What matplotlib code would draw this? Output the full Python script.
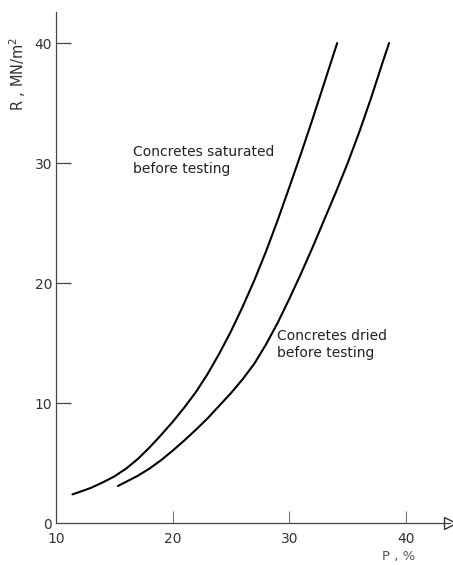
import numpy as np
import matplotlib.pyplot as plt

# porosity (%) vs strength (MN/m2) for the two curing conditions
sat_p = [11.4, 12, 13, 14, 15, 16, 17, 18, 19, 20, 21, 22, 23, 24, 25, 26,
         27, 28, 29, 30, 31, 32, 33, 34.1]
sat_r = [2.4, 2.6, 2.95, 3.4, 3.9, 4.55, 5.35, 6.3, 7.35, 8.45, 9.65, 10.95,
         12.45, 14.15, 16.0, 18.05, 20.25, 22.65, 25.25, 28.0, 30.8, 33.7,
         36.7, 40.0]

dry_p = [15.3, 16, 17, 18, 19, 20, 21, 22, 23, 24, 25, 26, 27, 28, 29, 30,
         31, 32, 33, 34, 35, 36, 37, 38, 38.55]
dry_r = [3.1, 3.45, 3.95, 4.55, 5.25, 6.05, 6.9, 7.8, 8.75, 9.8, 10.85,
         12.0, 13.3, 14.9, 16.7, 18.7, 20.8, 23.0, 25.3, 27.6, 30.0, 32.6,
         35.4, 38.4, 40.0]

xticks = [10, 20, 30, 40]
yticks = [0, 10, 20, 30, 40]

fig = plt.figure(figsize=(4.53, 5.65), dpi=100)
ax = fig.add_axes([0.124, 0.074, 0.87, 0.905])

ax.plot(sat_p, sat_r, color='black', lw=1.5, solid_capstyle='round',
        solid_joinstyle='round')
ax.plot(dry_p, dry_r, color='black', lw=1.5, solid_capstyle='round',
        solid_joinstyle='round')

ax.set_xlim(10, 43.8)
ax.set_ylim(0, 42.6)

for s in ['top', 'right']:
    ax.spines[s].set_visible(False)
for s in ['left', 'bottom']:
    ax.spines[s].set_color('#444444')
    ax.spines[s].set_linewidth(0.9)

# arrow heads on the axes
ax.plot(1, 0, '>', ms=8, mfc='white', mec='#333333', mew=1.0,
        transform=ax.get_yaxis_transform(), clip_on=False)
ax.plot(0, 1, '^', ms=7, mfc='#555555', mec='#222222', mew=1.0,
        transform=ax.get_xaxis_transform(), clip_on=False)

ax.set_xticks(xticks)
ax.set_yticks(yticks)
ax.tick_params(axis='y', direction='in', length=11, width=0.9, color='#444444',
               labelsize=10, labelcolor='#333333', pad=3)
ax.tick_params(axis='x', direction='in', length=9, width=0.8, color='#777777',
               labelsize=10, labelcolor='#333333', pad=6)
ax.xaxis.get_major_ticks()[0].tick1line.set_visible(False)
ax.yaxis.get_major_ticks()[0].tick1line.set_visible(False)

ax.text(16.6, 30.2, 'Concretes saturated\nbefore testing', fontsize=10,
        color='#222222', va='center', ha='left', linespacing=1.25)
ax.text(28.9, 14.9, 'Concretes dried\nbefore testing', fontsize=10,
        color='#222222', va='center', ha='left', linespacing=1.25)

fig.text(0.04, 0.87, 'R , MN/m$^2$', rotation=90, fontsize=10.5,
         color='#333333', ha='center', va='center')
fig.text(0.88, 0.004, 'P , %', fontsize=9.5, color='#555555',
         ha='center', va='bottom')

fig.savefig('out.png', dpi=100)
